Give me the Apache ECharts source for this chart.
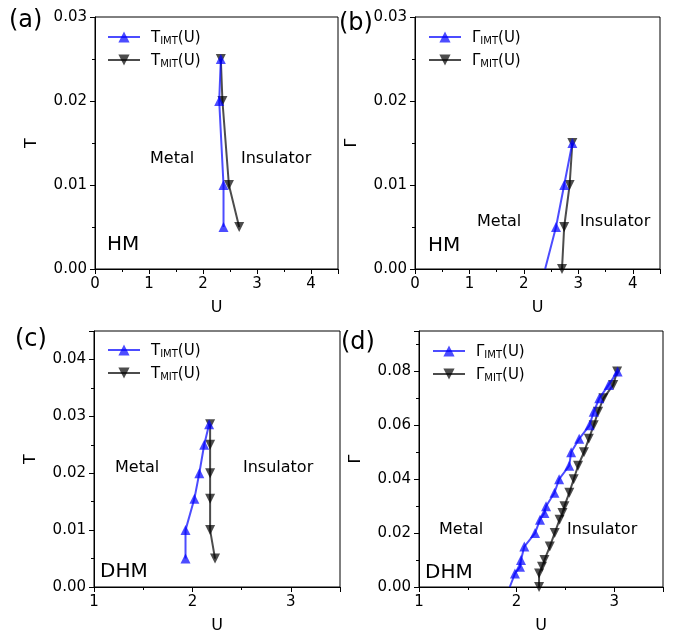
<!DOCTYPE html>
<html>
<head>
<meta charset="utf-8">
<script src="https://cdn.jsdelivr.net/npm/echarts@6/dist/echarts.min.js"></script>
<style>html,body{margin:0;padding:0;background:#fff}#c{width:673px;height:635px}</style>
</head>
<body>
<div id="c"></div>
<script>
// ---- data ----
// (a) HM, T vs U
const aIMT_U = [2.33, 2.30, 2.38, 2.38];
const aIMT_T = [0.025, 0.02, 0.01, 0.005];
const aMIT_U = [2.33, 2.36, 2.48, 2.67];
const aMIT_T = [0.025, 0.02, 0.01, 0.005];
// (b) HM, Gamma vs U
const bIMT_U = [2.89, 2.74, 2.59, 2.39];
const bIMT_G = [0.015, 0.01, 0.005, 0.0];
const bMIT_U = [2.89, 2.84, 2.74, 2.70];
const bMIT_G = [0.015, 0.01, 0.005, 0.0];
// (c) DHM, T vs U
const cIMT_U = [1.93, 1.93, 2.02, 2.07, 2.12, 2.17];
const cIMT_T = [0.005, 0.01, 0.0155, 0.02, 0.025, 0.0286];
const cMIT_U = [2.23, 2.18, 2.18, 2.18, 2.18, 2.18];
const cMIT_T = [0.005, 0.01, 0.0155, 0.02, 0.025, 0.0286];
// (d) DHM, Gamma vs U
const dIMT_U = [1.93, 1.983, 2.035, 2.045, 2.079, 2.189, 2.24, 2.285, 2.302, 2.388, 2.436, 2.539, 2.559, 2.641, 2.747, 2.79, 2.847, 2.943, 3.035];
const dIMT_G = [0.0, 0.005, 0.0075, 0.01, 0.015, 0.02, 0.025, 0.0275, 0.03, 0.035, 0.04, 0.045, 0.05, 0.055, 0.06, 0.065, 0.07, 0.075, 0.08];
const dMIT_U = [2.23, 2.23, 2.26, 2.285, 2.34, 2.39, 2.44, 2.47, 2.49, 2.54, 2.585, 2.63, 2.69, 2.74, 2.79, 2.835, 2.89, 2.99, 3.03];
const dMIT_G = [0.0, 0.005, 0.0075, 0.01, 0.015, 0.02, 0.025, 0.0275, 0.03, 0.035, 0.04, 0.045, 0.05, 0.055, 0.06, 0.065, 0.07, 0.075, 0.08];

const FONT = 'DejaVu Sans';
const BLUE = 'rgba(0,0,255,0.7)';
const BLACK = 'rgba(0,0,0,0.7)';

function pairs(xs, ys, hideZero) {
  return xs.map((x, i) => {
    const it = { value: [x, ys[i]] };
    if (hideZero && ys[i] === 0) it.symbol = 'none';
    return it;
  });
}

const grids = [
  { left: 95, top: 17, width: 243, height: 252 },
  { left: 415, top: 17, width: 245, height: 252 },
  { left: 94, top: 331, width: 246, height: 259 },
  { left: 419, top: 331, width: 244, height: 259 }
].map(g => Object.assign(g, { show: true, borderColor: '#000', borderWidth: 1, containLabel: false }));

function xAxis(i, min, max) {
  return {
    type: 'value', gridIndex: i, min: min, max: max, interval: 1,
    name: 'U', nameLocation: 'middle', nameGap: 31,
    nameTextStyle: { fontFamily: FONT, fontSize: 16, color: '#000' },
    axisLine: { show: true, onZero: false, lineStyle: { color: '#000', width: 1 } },
    axisTick: { show: true, length: 5, lineStyle: { color: '#000' } },
    minorTick: { show: true, splitNumber: 2, length: 3, lineStyle: { color: '#000' } },
    axisLabel: { fontFamily: FONT, fontSize: 15, color: '#000', margin: 8, showMaxLabel: false,
      formatter: v => String(v) },
    splitLine: { show: false }, minorSplitLine: { show: false }
  };
}
function yAxis(i, max, interval, name, nameGap) {
  return {
    type: 'value', gridIndex: i, min: 0, max: max, interval: interval,
    name: name, nameLocation: 'middle', nameGap: nameGap,
    nameTextStyle: { fontFamily: FONT, fontSize: 16, color: '#000' },
    axisLine: { show: true, onZero: false, lineStyle: { color: '#000', width: 1 } },
    axisTick: { show: true, length: 5, lineStyle: { color: '#000' } },
    minorTick: { show: true, splitNumber: 2, length: 3, lineStyle: { color: '#000' } },
    axisLabel: { fontFamily: FONT, fontSize: 15, color: '#000', margin: 8,
      showMaxLabel: (Math.abs(max / interval - Math.round(max / interval)) < 1e-6),
      formatter: v => v.toFixed(2) },
    splitLine: { show: false }, minorSplitLine: { show: false }
  };
}

function lineSeries(name, idx, data, color, down) {
  return {
    name: name, type: 'line', xAxisIndex: idx, yAxisIndex: idx, data: data,
    symbol: 'triangle', symbolSize: 10, symbolRotate: down ? 180 : 0,
    lineStyle: { color: color, width: 2 }, itemStyle: { color: color },
    animation: false, clip: true, z: down ? 3 : 4
  };
}

const labelMap = {
  aI: '{m|T}{s|IMT}{m|(U)}', aM: '{m|T}{s|MIT}{m|(U)}',
  bI: '{m|Γ}{s|IMT}{m|(U)}', bM: '{m|Γ}{s|MIT}{m|(U)}',
  cI: '{m|T}{s|IMT}{m|(U)}', cM: '{m|T}{s|MIT}{m|(U)}',
  dI: '{m|Γ}{s|IMT}{m|(U)}', dM: '{m|Γ}{s|MIT}{m|(U)}'
};
function legend(names, left, top) {
  return {
    data: names, left: left, top: top, orient: 'vertical', itemGap: 8,
    itemWidth: 32, itemHeight: 14, padding: 0,
    formatter: n => labelMap[n],
    textStyle: {
      fontFamily: FONT, color: '#000', padding: [0, 0, 0, 6],
      rich: {
        m: { fontFamily: FONT, fontSize: 15, color: '#000', lineHeight: 18, verticalAlign: 'bottom' },
        s: { fontFamily: FONT, fontSize: 10, color: '#000', lineHeight: 13, verticalAlign: 'bottom' }
      }
    }
  };
}

function txt(x, y, s, size) {
  return { type: 'text', x: x, y: y, style: { text: s, fontFamily: FONT, fontSize: size, fill: '#000', textVerticalAlign: 'middle' } };
}

const option = {
  backgroundColor: '#fff',
  animation: false,
  grid: grids,
  xAxis: [xAxis(0, 0, 4.5), xAxis(1, 0, 4.5), xAxis(2, 1, 3.5), xAxis(3, 1, 3.5)],
  yAxis: [yAxis(0, 0.03, 0.01, 'T', 55), yAxis(1, 0.03, 0.01, 'Γ', 55),
          yAxis(2, 0.045, 0.01, 'T', 55), yAxis(3, 0.095, 0.02, 'Γ', 55)],
  legend: [legend(['aI', 'aM'], 107, 31), legend(['bI', 'bM'], 428, 31),
           legend(['cI', 'cM'], 107, 344), legend(['dI', 'dM'], 432, 345)],
  series: [
    lineSeries('aI', 0, pairs(aIMT_U, aIMT_T, true), BLUE, false),
    lineSeries('aM', 0, pairs(aMIT_U, aMIT_T, false), BLACK, true),
    lineSeries('bI', 1, pairs(bIMT_U, bIMT_G, true), BLUE, false),
    lineSeries('bM', 1, pairs(bMIT_U, bMIT_G, false), BLACK, true),
    lineSeries('cI', 2, pairs(cIMT_U, cIMT_T, true), BLUE, false),
    lineSeries('cM', 2, pairs(cMIT_U, cMIT_T, false), BLACK, true),
    lineSeries('dI', 3, pairs(dIMT_U, dIMT_G, true), BLUE, false),
    lineSeries('dM', 3, pairs(dMIT_U, dMIT_G, false), BLACK, true)
  ],
  graphic: [
    txt(9, 21, '(a)', 24), txt(339, 24, '(b)', 24), txt(15, 340, '(c)', 24), txt(341, 343, '(d)', 24),
    txt(150, 159, 'Metal', 16), txt(241, 159, 'Insulator', 16), txt(107, 245, 'HM', 20),
    txt(477, 222, 'Metal', 16), txt(580, 222, 'Insulator', 16), txt(428, 246, 'HM', 20),
    txt(115, 468, 'Metal', 16), txt(243, 468, 'Insulator', 16), txt(100, 572, 'DHM', 20),
    txt(439, 530, 'Metal', 16), txt(567, 530, 'Insulator', 16), txt(425, 573, 'DHM', 20)
  ]
};

const chart = echarts.init(document.getElementById('c'), null, { renderer: 'canvas' });
chart.setOption(option);
</script>
</body>
</html>
